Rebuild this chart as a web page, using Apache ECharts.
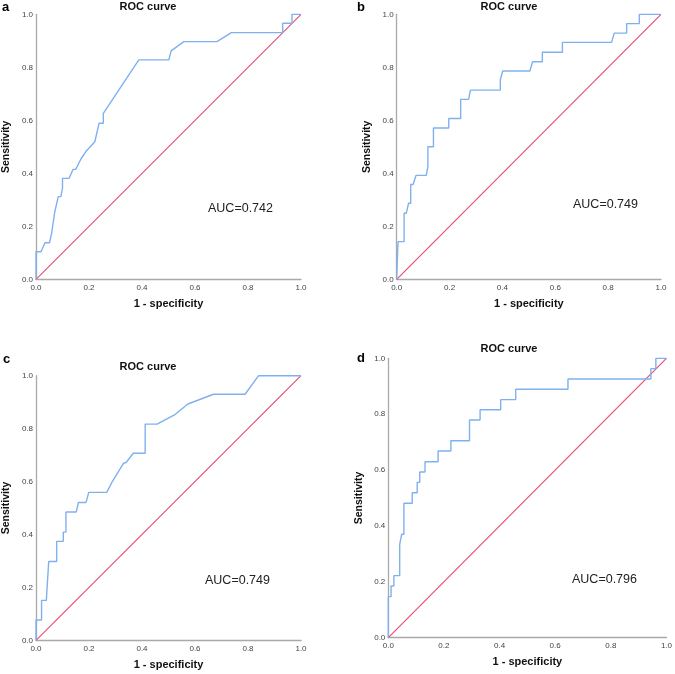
<!DOCTYPE html>
<html>
<head>
<meta charset="utf-8">
<script src="https://cdn.jsdelivr.net/npm/echarts@6/dist/echarts.min.js"></script>
<style>html,body{margin:0;padding:0;background:#fff}#c{width:675px;height:674px}</style>
</head>
<body>
<div id="c"></div>
<script>
// ---- data ----
const tickValues = [0, 0.2, 0.4, 0.6, 0.8, 1.0];
const panelLetters = ['a', 'b', 'c', 'd'];
const panelTitle = 'ROC curve';
const xName = '1 - specificity';
const yName = 'Sensitivity';
const aucLabels = ['AUC=0.742', 'AUC=0.749', 'AUC=0.749', 'AUC=0.796'];
const refX = [0, 1];
const refY = [0, 1];

const fprA = [0, 0, 0.019, 0.034, 0.051, 0.059, 0.071, 0.084, 0.094, 0.100, 0.100, 0.125, 0.140, 0.150, 0.169, 0.188, 0.222, 0.238, 0.254, 0.254, 0.388, 0.501, 0.510, 0.558, 0.683, 0.737, 0.931, 0.931, 0.966, 0.966, 1.0];
const tprA = [0, 0.104, 0.104, 0.138, 0.138, 0.174, 0.255, 0.312, 0.312, 0.345, 0.381, 0.381, 0.415, 0.415, 0.453, 0.482, 0.519, 0.589, 0.589, 0.626, 0.828, 0.828, 0.862, 0.897, 0.897, 0.931, 0.931, 0.966, 0.966, 1.0, 1.0];

const fprB = [0, 0.005, 0.005, 0.028, 0.028, 0.036, 0.045, 0.053, 0.053, 0.062, 0.073, 0.112, 0.118, 0.118, 0.139, 0.139, 0.197, 0.197, 0.242, 0.242, 0.272, 0.279, 0.392, 0.392, 0.401, 0.504, 0.514, 0.551, 0.551, 0.627, 0.627, 0.813, 0.823, 0.870, 0.870, 0.918, 0.918, 1.0];
const tprB = [0, 0, 0.142, 0.142, 0.249, 0.249, 0.287, 0.287, 0.358, 0.358, 0.392, 0.392, 0.425, 0.500, 0.500, 0.571, 0.571, 0.607, 0.607, 0.679, 0.679, 0.714, 0.714, 0.752, 0.786, 0.786, 0.821, 0.821, 0.857, 0.857, 0.894, 0.894, 0.929, 0.929, 0.965, 0.965, 1.0, 1.0];

const fprC = [0, 0, 0.021, 0.021, 0.039, 0.041, 0.048, 0.048, 0.078, 0.078, 0.103, 0.103, 0.113, 0.113, 0.152, 0.160, 0.189, 0.199, 0.267, 0.288, 0.330, 0.340, 0.367, 0.412, 0.412, 0.457, 0.526, 0.573, 0.670, 0.789, 0.840, 1.0];
const tprC = [0, 0.077, 0.077, 0.151, 0.151, 0.186, 0.186, 0.298, 0.298, 0.374, 0.374, 0.409, 0.409, 0.485, 0.485, 0.521, 0.521, 0.559, 0.559, 0.600, 0.669, 0.672, 0.707, 0.707, 0.817, 0.817, 0.854, 0.893, 0.930, 0.930, 1.0, 1.0];

const fprD = [0, 0, 0.010, 0.010, 0.020, 0.020, 0.041, 0.041, 0.048, 0.048, 0.056, 0.056, 0.086, 0.086, 0.104, 0.104, 0.113, 0.113, 0.132, 0.132, 0.179, 0.179, 0.225, 0.225, 0.292, 0.292, 0.330, 0.330, 0.404, 0.404, 0.458, 0.458, 0.646, 0.646, 0.944, 0.944, 0.962, 0.962, 1.0];
const tprD = [0, 0.147, 0.147, 0.185, 0.185, 0.222, 0.222, 0.334, 0.334, 0.370, 0.370, 0.481, 0.481, 0.519, 0.519, 0.556, 0.556, 0.593, 0.593, 0.630, 0.630, 0.668, 0.668, 0.705, 0.705, 0.779, 0.779, 0.816, 0.816, 0.852, 0.852, 0.889, 0.889, 0.926, 0.926, 0.963, 0.963, 1.0, 1.0];

// ---- layout ----
const curves = [[fprA, tprA], [fprB, tprB], [fprC, tprC], [fprD, tprD]];
const grids = [
  {left: 35, top: 14.3, width: 266, height: 265},
  {left: 396.7, top: 14.3, width: 264.3, height: 265},
  {left: 35, top: 375.7, width: 266, height: 264.6},
  {left: 388.3, top: 358.3, width: 280, height: 279.4}
];
const titlePos = [[148, 7], [509, 7], [148, 367], [509, 349]];
const letterPos = [[2, 7.5], [357, 7], [3, 359], [357, 358]];
const aucPos = [[208, 208.5], [573, 205], [205, 581], [572, 580]];

const FONT = '"Liberation Sans", Arial, sans-serif';
const axisColor = '#a9a9a9';
const blue = '#7fb1ef';
const red = '#e8496f';

const xAxes = [], yAxes = [], series = [], graphic = [];
grids.forEach((g, i) => {
  xAxes.push({
    type: 'value', gridIndex: i, min: 0, max: 1, interval: 0.2,
    name: xName, nameLocation: 'middle', nameGap: 19,
    nameTextStyle: {fontFamily: FONT, fontWeight: 'bold', fontSize: 11, color: '#111'},
    axisLine: {show: true, onZero: false, lineStyle: {color: axisColor, width: 1.3}},
    axisTick: {show: false}, splitLine: {show: false},
    axisLabel: {fontFamily: FONT, fontSize: 8, color: '#444', margin: 4, formatter: v => v.toFixed(1)}
  });
  yAxes.push({
    type: 'value', gridIndex: i, min: 0, max: 1, interval: 0.2,
    name: yName, nameLocation: 'middle', nameGap: 24, nameRotate: 90,
    nameTextStyle: {fontFamily: FONT, fontWeight: 'bold', fontSize: 10.5, color: '#111'},
    axisLine: {show: true, onZero: false, lineStyle: {color: axisColor, width: 1.3}},
    axisTick: {show: false}, splitLine: {show: false},
    axisLabel: {fontFamily: FONT, fontSize: 8, color: '#444', margin: 3, formatter: v => v.toFixed(1)}
  });
  series.push({
    type: 'line', xAxisIndex: i, yAxisIndex: i, symbol: 'none', silent: true,
    data: refX.map((x, k) => [x, refY[k]]),
    lineStyle: {color: red, width: 1.1}, z: 2
  });
  series.push({
    type: 'line', xAxisIndex: i, yAxisIndex: i, symbol: 'none', silent: true,
    data: curves[i][0].map((x, k) => [x, curves[i][1][k]]),
    lineStyle: {color: blue, width: 1.4}, z: 3
  });
  graphic.push({type: 'text', x: titlePos[i][0], y: titlePos[i][1],
    style: {text: panelTitle, font: 'bold 11px ' + FONT, fill: '#111', textAlign: 'center', textVerticalAlign: 'middle'}});
  graphic.push({type: 'text', x: letterPos[i][0], y: letterPos[i][1],
    style: {text: panelLetters[i], font: 'bold 13px ' + FONT, fill: '#000', textAlign: 'left', textVerticalAlign: 'middle'}});
  graphic.push({type: 'text', x: aucPos[i][0], y: aucPos[i][1],
    style: {text: aucLabels[i], font: '12.5px ' + FONT, fill: '#222', textAlign: 'left', textVerticalAlign: 'middle'}});
});

const chart = echarts.init(document.getElementById('c'), null, {renderer: 'canvas'});
chart.setOption({
  animation: false,
  backgroundColor: '#fff',
  grid: grids,
  xAxis: xAxes,
  yAxis: yAxes,
  series: series,
  graphic: graphic
});
</script>
</body>
</html>
